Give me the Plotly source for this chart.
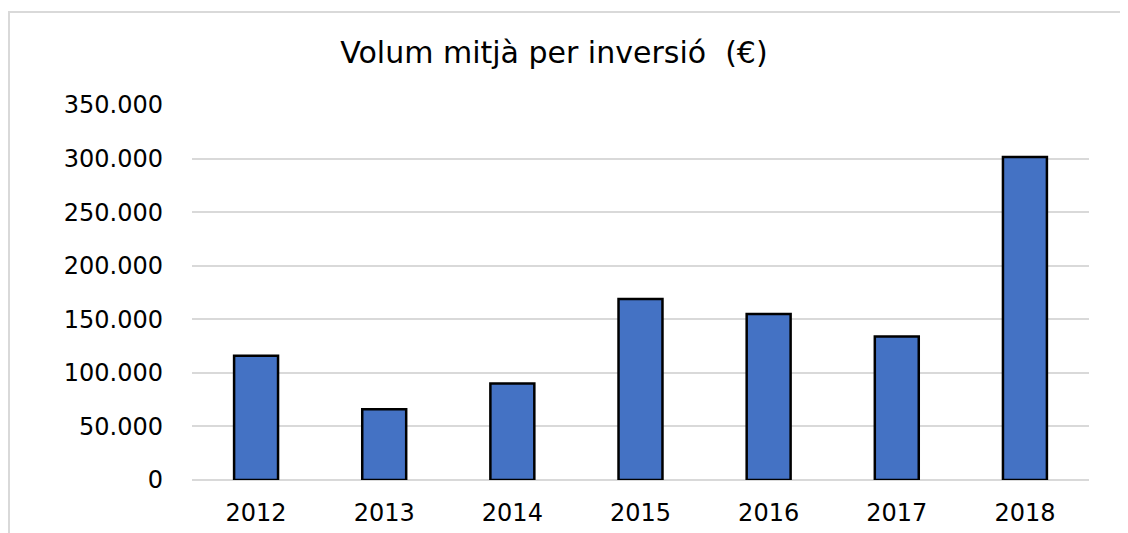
import plotly.graph_objects as go

years = ['2012', '2013', '2014', '2015', '2016', '2017', '2018']
volum = [116000, 66000, 90000, 169000, 155000, 134000, 301500]
y_ticks = [0, 50000, 100000, 150000, 200000, 250000, 300000, 350000]
y_tick_labels = ['0', '50.000', '100.000', '150.000', '200.000', '250.000', '300.000', '350.000']

font_family = 'DejaVu Sans, Verdana, sans-serif'

fig = go.Figure(go.Bar(
    x=years,
    y=volum,
    marker=dict(color='#4472C4', line=dict(color='black', width=2.5)),
))

# page body has an 8px margin, so margins are shifted by 8px
fig.update_layout(
    width=1128, height=533,
    margin=dict(l=184, r=47, t=97, b=61),
    paper_bgcolor='white', plot_bgcolor='white',
    bargap=0.657,
    showlegend=False,
    font=dict(family=font_family, color='black', size=24),
    title=dict(text='Volum mitjà per inversió  (€)', x=0.484, xref='container',
               xanchor='center', y=0.9165, yref='container', yanchor='middle',
               font=dict(size=30, family=font_family, color='black')),
    xaxis=dict(showgrid=False, showline=False, ticks='', ticklabelstandoff=16),
    yaxis=dict(range=[0, 350000], tickvals=y_ticks, ticktext=y_tick_labels,
               showgrid=True, gridcolor='#d9d9d9', gridwidth=1.5,
               zeroline=True, zerolinecolor='#d9d9d9', zerolinewidth=1.5,
               showline=False, ticks='', ticklabelstandoff=28),
    shapes=[dict(type='rect', xref='paper', yref='paper',
                 x0=-0.204, x1=1.1, y0=-0.3, y1=1.248,
                 line=dict(color='#d9d9d9', width=2), layer='below')],
)

fig.write_html('out.html')
